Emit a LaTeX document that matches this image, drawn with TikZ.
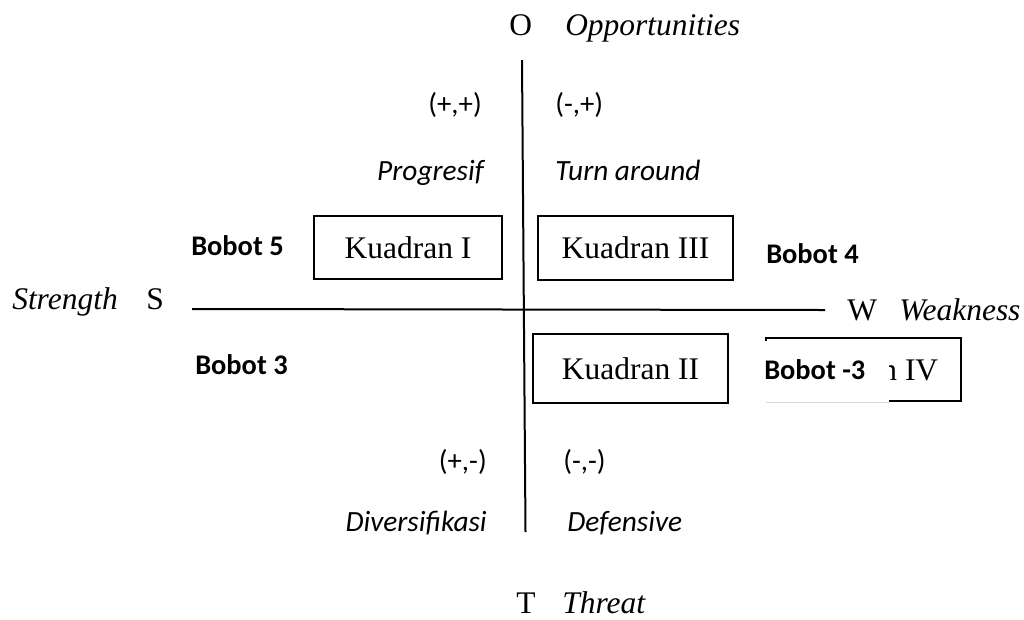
\documentclass[tikz,border=0pt]{standalone}
\usepackage{fontspec}
\setmainfont{Liberation Serif}
\newfontfamily\calfont{Carlito}
\begin{document}
\begin{tikzpicture}[x=0.75pt,y=-0.75pt,
  serif/.style={font=\fontsize{23.6}{28}\selectfont, inner sep=0, anchor=base west},
  serifit/.style={font=\fontsize{23.6}{28}\selectfont\itshape, inner sep=0, anchor=base west},
  sans/.style={font=\calfont\fontsize{21.6}{26}\selectfont, inner sep=0},
  sansit/.style={font=\calfont\fontsize{22}{26}\selectfont\itshape, inner sep=0},
  bobot/.style={font=\calfont\fontsize{21.3}{26}\selectfont\bfseries, inner sep=0, anchor=base west},
  kbox/.style={draw, line width=1.3pt, font=\fontsize{23.6}{28}\selectfont, inner sep=0, minimum width=195*0.75pt, minimum height=64*0.75pt},
  axis/.style={line width=1.5pt}]
\useasboundingbox (0,0) rectangle (1024,619);

% axes
\coordinate (vt) at (522,60);
\coordinate (vb) at (525.5,532);
\coordinate (hl) at (192,309);
\coordinate (hr) at (825,310);
\draw[axis] (vt) -- (vb);
\draw[axis] (hl) -- (hr);

% axis labels
\node[serif] (O) at (509,35) {O};
\node[serifit] (opp) at (565,35) {Opportunities};
\node[serifit] (str) at (12,309) {Strength};
\node[serif] (S) at (146,309) {S};
\node[serif] (W) at (847,320) {W};
\node[serifit] (weak) at (899,320) {Weakness};
\node[serif] (T) at (516,613) {T};
\node[serifit] (thr) at (562,613) {Threat};

% quadrant labels
\node[sans, anchor=base east] (pp) at (482,113) {(+,+)};
\node[sans, anchor=base west] (mp) at (555,113) {(-,+)};
\node[sansit, anchor=base east] (prog) at (484,180) {Progresif};
\node[sansit, anchor=base west] (turn) at (555,180) {Turn around};
\node[sans, anchor=base east] (pm) at (487,470) {(+,-)};
\node[sans, anchor=base west] (mm) at (563,470) {(-,-)};
\node[sansit, anchor=base east] (div) at (487,531) {Diversifikasi};
\node[sansit, anchor=base west] (def) at (567,531) {Defensive};

% boxes
\node[kbox, minimum width=188*0.75pt, minimum height=63*0.75pt] (k1) at (408,247.5) {Kuadran I};
\node[kbox] (k3) at (635.5,248) {Kuadran III};
\node[kbox, minimum height=69*0.75pt] (k2) at (630.5,368.5) {Kuadran II};
\node[kbox, minimum height=63*0.75pt] (k4) at (863.5,369.5) {Kuadran IV};

% cover over Kuadran IV
\fill[white] (760,341) rectangle (889,404);
\draw[black!15, line width=0.6pt] (766,402) -- (889,402);

% weights
\node[bobot] (b5) at (191,255) {Bobot 5};
\node[bobot] (b4) at (766,263) {Bobot 4};
\node[bobot] (b3) at (195,374) {Bobot 3};
\node[bobot] (bm3) at (764,379) {Bobot -3};
\end{tikzpicture}
\end{document}
